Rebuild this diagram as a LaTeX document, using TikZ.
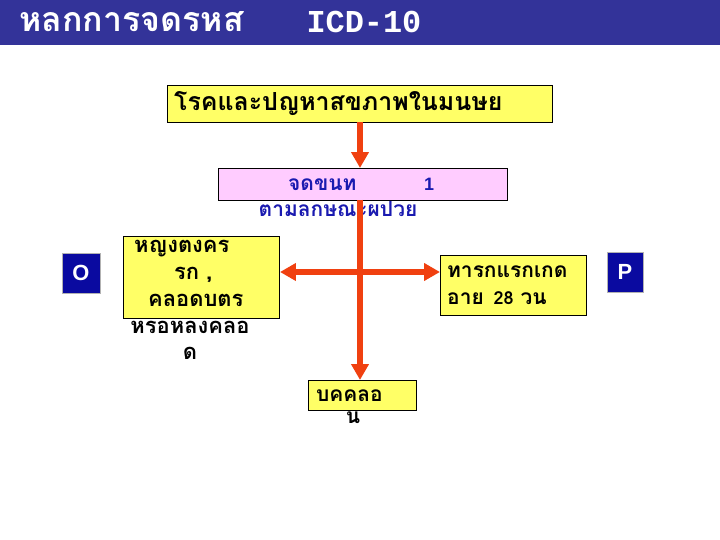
\documentclass[tikz,border=0pt]{standalone}
\usepackage{fontspec}
\setmainfont{Liberation Sans}
\newfontfamily\thaifont[Script=Thai]{Loma}
\newfontfamily\monof{Liberation Mono}
\usetikzlibrary{arrows.meta}
\definecolor{barblue}{HTML}{333399}
\definecolor{ylw}{HTML}{FFFF66}
\definecolor{pnk}{HTML}{FFCCFF}
\definecolor{arr}{HTML}{F04010}
\definecolor{txtblue}{HTML}{1A1AB0}
\definecolor{sqblue}{HTML}{0A0AA0}
\tikzset{
  ybox/.style={draw=black, fill=ylw, line width=0.6pt, inner sep=0pt},
  pbox/.style={draw=black, fill=pnk, line width=0.6pt, inner sep=0pt},
  sq/.style={fill=sqblue, draw=gray!60, text=white, font=\bfseries\fontsize{22}{24}\selectfont, inner sep=0pt},
  lbl/.style={font=\thaifont\bfseries\fontsize{21}{22}\selectfont, inner sep=0pt, align=left},
  redarrow/.style={draw=arr, line width=5.5pt, -{Triangle[width=17pt,length=16pt]}}
}
\begin{document}
\begin{tikzpicture}[x=1bp,y=-1bp]
\useasboundingbox (0,0) rectangle (720,540);
\fill[white] (0,0) rectangle (720,540);
\fill[barblue] (0,0) rectangle (720,45);
\node[anchor=west, text=white, font=\thaifont\bfseries\fontsize{34}{36}\selectfont] (t1) at (16,22) {หลกการจดรหส};
\node[anchor=west, text=white, font=\monof\bfseries\fontsize{32}{34}\selectfont] (t2) at (303,22) {ICD-10};
% boxes
\path[ybox] (167,85) rectangle (552,122); \coordinate (topb) at (360,122);
\node[lbl, anchor=west, font=\thaifont\bfseries\fontsize{25}{27}\selectfont] (top) at (174,104) {โรคและปญหาสขภาพในมนษย};
\path[pbox] (218,168) rectangle (507,200);
\coordinate (pinkt) at (360,168);
\coordinate (pinkb) at (360,200);
\node[lbl, text=txtblue, anchor=west] (p1) at (288,185) {จดขนท};
\node[lbl, text=txtblue, anchor=west, font=\bfseries\fontsize{18}{20}\selectfont] (p2) at (424,184) {1};
\draw[draw=arr, line width=5.5pt] (pinkb) -- (360,212);
\node[lbl, text=txtblue] (p3) at (338,209) {ตามลกษณะผปวย};
\path[ybox] (123,236) rectangle (279,318);
\node[lbl, align=left, anchor=north west, font=\thaifont\bfseries\fontsize{22}{27}\selectfont] (lt) at (134,240) {หญงตงคร\\\hspace*{40pt}รก ,\\\hspace*{14pt}คลอดบตร};
\node[lbl, align=center, font=\thaifont\bfseries\fontsize{22}{26}\selectfont] (lt2) at (190,340) {หรอหลงคลอ\\ด};
\path[ybox] (440,255) rectangle (586,315);
\node[lbl, align=left, anchor=west, font=\thaifont\bfseries\fontsize{21}{27}\selectfont] (rt) at (447,285) {ทารกแรกเกด\\ อาย\hspace{10pt}{\fontsize{18}{20}\selectfont 28} วน};
\path[ybox] (308,380) rectangle (416,410);
\node[lbl, anchor=west] (bt) at (316,396) {บคคลอ};
\node[lbl] (bt2) at (353,418) {น};
\node[sq, minimum width=38pt, minimum height=40pt] (O) at (81,273) {O};
\node[sq, minimum width=36pt, minimum height=40pt] (P) at (625,272) {P};
% arrows
\coordinate (cross) at (360,272);
\draw[redarrow] (topb) -- (pinkt);
\draw[redarrow] (360,205) -- (360,380);
\draw[redarrow] (cross) -- (280,272);
\draw[redarrow] (cross) -- (440,272);
\end{tikzpicture}
\end{document}
